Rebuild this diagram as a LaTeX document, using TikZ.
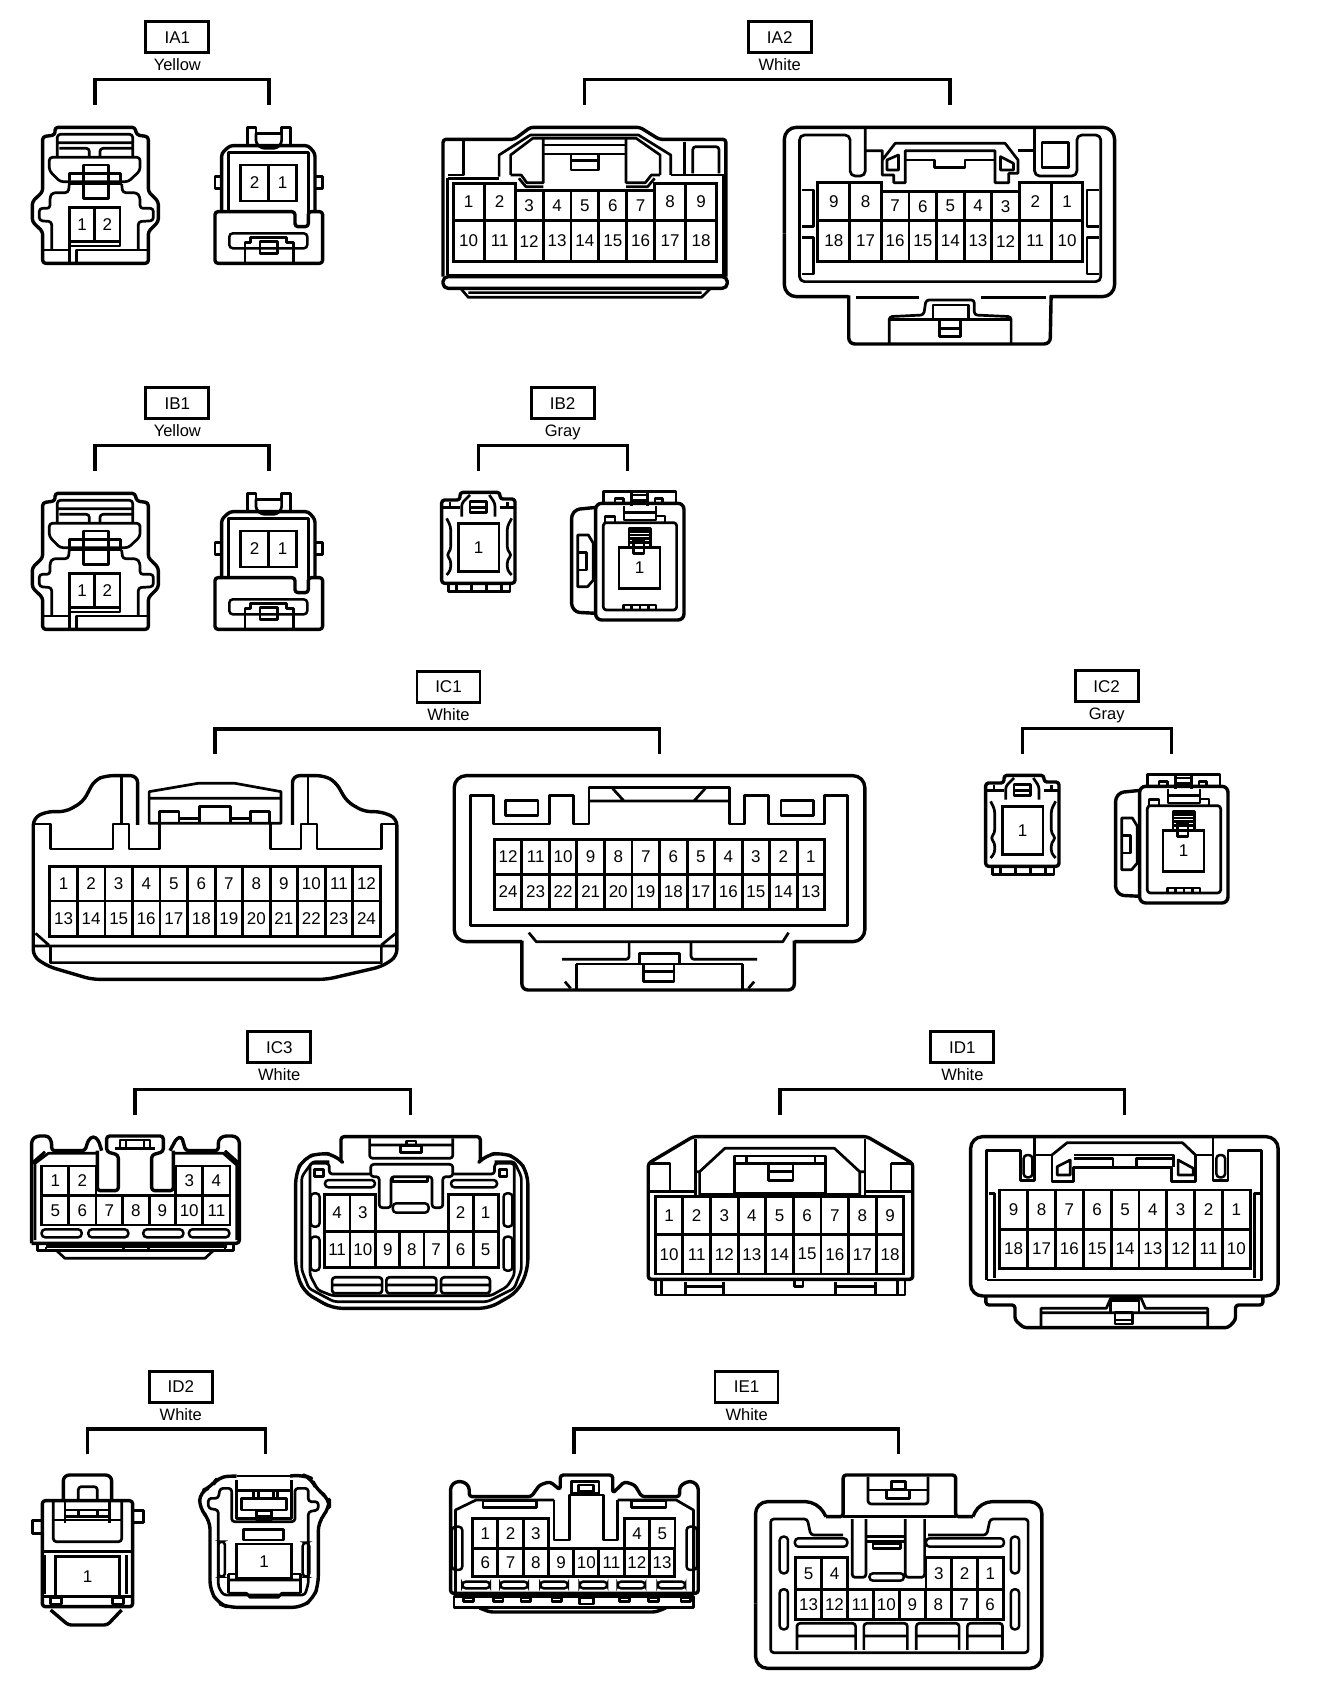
\documentclass[tikz,border=0pt]{standalone}
\usepackage{fontspec}
\setmainfont{Liberation Sans}
\usetikzlibrary{positioning}
\tikzset{
  shell/.style={line width=3.4pt,rounded corners=3pt,line join=round},
  inner/.style={line width=2.7pt,line join=round},
  curved/.style={line width=2.7pt,rounded corners=3pt,line join=round},
  slot/.style={line width=2.5pt,rounded corners=3.5pt},
  cell/.style={line width=2.9pt},
  pinnum/.style={inner sep=0pt,font=\fontsize{17}{20}\selectfont},
  tagbox/.style={draw,line width=2.7pt,minimum width=63pt,minimum height=31pt,inner sep=0pt,font=\fontsize{17}{20}\selectfont},
  tagcolor/.style={inner sep=0pt,text height=11pt,text depth=3pt,font=\fontsize{16.5}{20}\selectfont},
  bracket/.style={line width=3.4pt},
  crop/.style n args={3}{shift={(#1,#2)},x=#3pt,y=-0.3333pt}
}
\newcommand{\contag}[7]{%
  \node[tagbox] (#1) at (#4,#5) {#2};
  \node[tagcolor,below=5.5pt of #1] (#1col) {#3};
  \coordinate (#1l) at (#6,#5+202);
  \coordinate (#1r) at (#7,#5+202);
  \draw[bracket] (#1l) -- ++(0,-75) -| (#1r);
}
\newcommand{\pinrow}[6]{%
  \foreach \n [count=\i from 0] in {#6}
    \draw[cell] ({#2+\i*#4},#3) rectangle ({#2+(\i+1)*#4},#3+#5) node[midway,pinnum] (#1\n) {\n};
}
\newcommand{\twoplug}[1]{%
  \draw[shell] (128,410) -- (165,405) -- (165,382) -- (405,382) -- (410,405) -- (445,410) -- (445,575) -- (475,605) -- (475,665) -- (445,695) -- (445,790) -- (128,790) -- (128,695) -- (97,665) -- (97,605) -- (128,575) -- cycle;
  \draw[curved] (172,470) -- (172,403) -- (398,403) -- (398,470) (172,428) -- (398,428) (178,445) -- (268,445) -- (268,470) (300,470) -- (300,445) -- (398,445);
  \draw[curved] (148,472) -- (420,472) -- (420,512) -- (385,545) -- (180,545) -- (148,512) -- cycle;
  \draw[inner] (250,495) rectangle (325,595) (208,520) rectangle (362,552);
  \draw[curved] (208,552) -- (205,578) -- (158,578) -- (150,590) -- (150,625) -- (118,625) -- (118,662) -- (155,665) -- (155,750);
  \draw[curved] (365,552) -- (368,578) -- (410,578) -- (420,590) -- (420,625) -- (460,625) -- (460,662) -- (415,665) -- (415,750);
  \draw[inner] (128,750) -- (208,750) (230,785) -- (230,750) -- (445,750) (208,725) -- (208,785) (208,738) -- (360,738) -- (360,725);
  \pinrow{#1}{208}{622}{76}{103}{1,2}
}
\newcommand{\twosock}[1]{%
  \draw[inner] (742,435) -- (742,382) -- (768,382) -- (768,400) -- (845,400) -- (845,382) -- (872,382) -- (872,435);
  \draw[curved] (768,400) -- (768,430) -- (785,445) -- (830,445) -- (845,430) -- (845,400);
  \draw[shell] (665,635) -- (665,460) -- (690,437) -- (925,437) -- (945,460) -- (945,635);
  \draw[inner] (685,635) -- (685,458) -- (925,458) -- (925,640);
  \draw[inner] (665,530) -- (645,530) -- (645,565) -- (665,565) (945,530) -- (968,530) -- (968,565) -- (945,565);
  \pinrow{#1}{722}{495}{84}{108}{2,1}
  \draw[shell] (645,635) -- (885,635) -- (885,680) -- (925,680) -- (925,635) -- (968,635) -- (968,790) -- (645,790) -- cycle;
  \draw[slot] (688,700) rectangle (922,745);
  \draw[inner] (735,790) -- (735,728) -- (752,728) -- (752,712) -- (860,712) -- (860,728) -- (880,728) -- (880,790);
  \draw[inner] (780,725) rectangle (832,760);
}
\newcommand{\oneplug}[1]{%
  \draw[shell] (65,360) -- (120,360) -- (120,337) -- (240,337) -- (240,357) -- (285,357) -- (285,610) -- (65,610) -- cycle;
  \draw[inner] (85,610) -- (85,635) -- (270,635) -- (270,610) (110,612) -- (110,635) (155,612) -- (155,635) (200,612) -- (200,635) (245,612) -- (245,635);
  \draw[inner] (70,382) -- (120,382) (240,382) -- (285,382) (90,365) -- (90,382) (262,365) -- (262,382);
  \draw[curved] (125,410) -- (125,370) -- (150,345) (225,410) -- (225,370) -- (208,345);
  \draw[inner] (150,365) rectangle (200,398) (150,382) -- (200,382);
  \draw[curved] (80,415) -- (92,440) -- (92,510) -- (80,525) -- (92,540) -- (92,570) -- (80,585);
  \draw[curved] (275,415) -- (262,440) -- (262,510) -- (275,525) -- (262,540) -- (262,570) -- (275,585);
  \pinrow{#1}{115}{430}{122}{145}{1}
}
\newcommand{\onesock}[1]{%
  \draw[shell] (530,382) -- (470,388) -- (455,405) -- (455,680) -- (470,697) -- (528,700);
  \draw[inner] (473,465) -- (505,465) -- (520,490) -- (520,600) -- (503,620) -- (473,620) -- cycle;
  \draw[inner] (473,518) -- (500,518) -- (500,570) -- (473,570);
  \draw[inner] (550,370) -- (550,335) -- (768,335) -- (768,370) (585,370) -- (585,355) -- (610,355) -- (610,370) (705,370) -- (705,355) -- (728,355) -- (728,370);
  \draw[inner] (635,335) -- (635,378) (682,335) -- (682,378) (635,345) -- (682,345) (635,362) -- (682,362);
  \draw[shell,rounded corners=6pt] (527,370) rectangle (792,720);
  \draw[curved] (550,428) rectangle (770,690);
  \draw[inner] (612,378) -- (612,420) -- (708,420) -- (708,378) (612,398) -- (708,398) (555,428) -- (555,410) -- (585,410) -- (585,428) (735,428) -- (735,408) -- (708,408);
  \draw[inner] (627,500) -- (627,445) -- (692,445) -- (692,500) (627,455) -- (692,455) (627,465) -- (692,465) (627,475) -- (692,475) (627,487) -- (692,487);
  \draw[inner] (640,480) rectangle (672,520);
  \pinrow{#1}{597}{503}{123}{122}{1}
  \draw[inner] (610,690) -- (610,675) -- (708,675) -- (708,690) (635,675) -- (635,690) (660,675) -- (660,690) (685,675) -- (685,690);
}
\begin{document}
\begin{tikzpicture}[x=1pt,y=-1pt]
  \fill[white] (0,0) rectangle (1328,1706);
  \useasboundingbox (0,0) rectangle (1328,1706);

  \begin{scope}[crop={0}{0}{0.3333}]
    \contag{ia1}{IA1}{Yellow}{532}{112}{285}{807}
    \twoplug{ia1p}
    \twosock{ia1s}
  \end{scope}

  \begin{scope}[crop={0}{366}{0.3333}]
    \contag{ib1}{IB1}{Yellow}{532}{112}{285}{807}
    \twoplug{ib1p}
    \twosock{ib1s}
  \end{scope}

  \begin{scope}[crop={420}{380}{0.3333}]
    \contag{ib2}{IB2}{Gray}{428}{70}{175}{622}
    \oneplug{ib2p}
    \onesock{ib2s}
  \end{scope}

  \begin{scope}[crop={964}{663}{0.3333}]
    \contag{ic2}{IC2}{Gray}{428}{70}{175}{622}
    \oneplug{ic2p}
    \onesock{ic2s}
  \end{scope}

  \begin{scope}[crop={420}{0}{0.4600}]
    \contag{ia2}{IA2}{White}{782}{112}{358}{1152}
    \draw[shell] (50,830) -- (50,418) -- (205,418) -- (240,382) -- (478,382) -- (520,418) -- (665,418) -- (665,830);
    \draw[shell,rounded corners=5pt] (50,830) -- (668,830) -- (668,865) -- (50,865) -- cycle;
    \draw[inner] (90,868) -- (105,892) -- (612,892) -- (630,868) (105,878) -- (612,878);
    \draw[inner] (60,535) -- (172,535) (545,525) -- (660,525) -- (660,825) -- (60,825) -- (60,535);
    \draw[inner] (95,420) -- (95,525) -- (60,525) (575,425) -- (575,525);
    \draw[curved] (593,520) -- (593,440) -- (650,440) -- (650,520);
    \draw[inner] (172,530) -- (172,465) -- (240,405) -- (475,405) -- (545,465) -- (545,525);
    \draw[inner] (197,525) -- (197,465) -- (245,415) -- (470,415) -- (522,465) -- (522,525);
    \draw[inner] (197,525) -- (220,525) -- (232,548) -- (268,548) -- (268,415) (448,415) -- (448,548) -- (490,548) -- (503,525) -- (522,525);
    \draw[inner] (215,535) -- (230,560) -- (268,560) (448,560) -- (495,560) -- (510,535);
    \draw[inner] (268,435) -- (448,435) (268,462) -- (448,462);
    \draw[inner] (328,462) rectangle (388,510) (328,482) -- (388,482);
    \pinrow{ia2p}{72}{550}{67.5}{112}{1,2}
    \pinrow{ia2p}{207}{572}{60.6}{90}{3,4,5,6,7}
    \pinrow{ia2p}{510}{550}{67.5}{112}{8,9}
    \pinrow{ia2p}{72}{662}{67.5}{123}{10,11}
    \pinrow{ia2p}{207}{662}{60.6}{123}{12,13,14,15,16}
    \pinrow{ia2p}{510}{662}{67.5}{123}{17,18}
    \draw[shell,rounded corners=12pt] (792,700) -- (792,382) -- (1510,382) -- (1510,890) -- (1370,890);
    \draw[shell,rounded corners=6pt] (1372,886) -- (1370,1032) -- (932,1032) -- (932,886);
    \draw[shell,rounded corners=12pt] (932,890) -- (792,890) -- (792,700);
    \draw[curved,rounded corners=5pt] (968,385) -- (968,528) -- (935,528) -- (935,405) -- (825,405) -- (825,845) -- (1480,845) -- (1480,405) -- (1428,405) -- (1428,528) -- (1336,528) -- (1336,385);
    \draw[inner] (968,452) -- (1005,452) -- (1005,525) -- (1030,525) -- (1030,548) -- (1055,548) -- (1055,452) -- (1250,452) -- (1250,548) -- (1280,548) -- (1280,520) -- (1300,520) -- (1300,480) -- (1272,430) -- (1033,430) -- (1005,480);
    \draw[inner] (1300,452) -- (1336,452);
    \draw[inner] (1055,480) -- (1118,480) -- (1118,502) -- (1185,502) -- (1185,480) -- (1250,480);
    \draw[inner] (1015,480) -- (1040,465) -- (1040,510) -- (1015,510) -- cycle (1262,470) -- (1290,490) -- (1290,510) -- (1262,510) -- cycle;
    \draw[inner] (1352,428) rectangle (1410,502);
    \draw[inner] (830,570) -- (855,570) -- (855,680) -- (830,680) (830,712) -- (855,712) -- (855,822) -- (830,822);
    \draw[inner] (1475,570) -- (1450,570) -- (1450,680) -- (1475,680) (1475,712) -- (1450,712) -- (1450,822) -- (1475,822);
    \pinrow{ia2s}{865}{548}{69}{114}{9,8}
    \pinrow{ia2s}{1003}{575}{60}{87}{7,6,5,4,3}
    \pinrow{ia2s}{1303}{548}{69}{114}{2,1}
    \pinrow{ia2s}{865}{662}{69}{123}{18,17}
    \pinrow{ia2s}{1003}{662}{60}{123}{16,15,14,13,12}
    \pinrow{ia2s}{1303}{662}{69}{123}{11,10}
    \draw[inner] (948,892) -- (1085,892) (1220,892) -- (1360,892);
    \draw[curved] (1020,1030) -- (1020,950) -- (1095,945) -- (1100,900) -- (1205,900) -- (1205,945) -- (1285,950) -- (1285,1030);
    \draw[inner] (1020,958) -- (1285,958) (1115,958) -- (1115,915) -- (1192,915) -- (1192,958);
    \draw[inner] (1130,958) rectangle (1175,1010) (1130,985) -- (1175,985);
  \end{scope}

  \begin{scope}[crop={0}{670}{0.5735}]
    \contag{ic1}{IC1}{White}{782}{50}{375}{1150}
    \draw[shell,rounded corners=7pt] (240,465) -- (240,317) -- (185,317) -- (165,330) -- (145,395) -- (115,425) -- (80,425) -- (58,445) -- (58,860) -- (85,890) -- (160,928) -- (570,928) -- (665,890) -- (692,860) -- (692,445) -- (665,425) -- (635,425) -- (605,395) -- (585,335) -- (565,317) -- (510,317) -- (510,465);
    \draw[inner] (58,462) -- (88,462) -- (88,537) -- (197,537) -- (197,462) -- (225,462) -- (225,537) -- (278,537) -- (278,460);
    \draw[inner] (692,462) -- (665,462) -- (665,537) -- (553,537) -- (553,462) -- (525,462) -- (525,537) -- (472,537) -- (472,460);
    \draw[inner] (212,320) -- (212,460) (537,320) -- (537,460);
    \draw[inner] (260,460) -- (260,365) -- (345,340) -- (410,340) -- (490,365) -- (490,460) -- cycle (260,385) -- (490,385);
    \draw[inner] (278,460) -- (278,425) -- (312,425) -- (312,460) (348,460) -- (348,410) -- (402,410) -- (402,460) (437,460) -- (437,425) -- (470,425) -- (470,460) (312,445) -- (348,445) (402,445) -- (437,445);
    \pinrow{ic1p}{87}{590}{48}{103}{1,2,3,4,5,6,7,8,9,10,11,12}
    \pinrow{ic1p}{87}{693}{48}{107}{13,14,15,16,17,18,19,20,21,22,23,24}
    \draw[inner] (58,828) -- (692,828) (88,828) -- (88,878) -- (665,878) -- (665,828) (62,790) -- (85,825) (690,790) -- (665,825);
    \draw[shell,rounded corners=12pt] (792,600) -- (792,317) -- (1508,317) -- (1508,815) -- (1385,815);
    \draw[shell,rounded corners=6pt] (1385,812) -- (1385,960) -- (910,960) -- (910,812);
    \draw[shell,rounded corners=12pt] (910,815) -- (792,815) -- (792,600);
    \draw[inner] (820,767) -- (820,377) -- (860,377) -- (860,462) -- (958,462) -- (958,377) -- (1000,377) -- (1000,462) -- (1027,462) -- (1027,352) -- (1272,352) -- (1272,462) -- (1298,462) -- (1298,377) -- (1340,377) -- (1340,462) -- (1438,462) -- (1438,377) -- (1478,377) -- (1478,767) -- cycle;
    \draw[inner] (1027,393) -- (1272,393) (1068,355) -- (1088,393) (1230,355) -- (1210,393);
    \draw[inner] (882,392) rectangle (938,437) (1362,392) rectangle (1418,437);
    \pinrow{ic1s}{862}{508}{48}{105}{12,11,10,9,8,7,6,5,4,3,2,1}
    \pinrow{ic1s}{862}{613}{48}{105}{24,23,22,21,20,19,18,17,16,15,14,13}
    \draw[inner] (922,788) -- (935,815) -- (1365,815) -- (1375,788);
    \draw[curved] (1097,815) -- (1097,868) -- (980,868) (1205,815) -- (1205,868) -- (1320,868);
    \draw[inner] (1005,882) -- (1295,882) (1005,882) -- (1005,960) (1295,882) -- (1295,960);
    \draw[inner] (1115,850) rectangle (1185,882) (1122,882) rectangle (1175,935) (1122,905) -- (1175,905);
    \draw[inner] (985,935) -- (995,955) (1315,935) -- (1305,955);
  \end{scope}

  \begin{scope}[crop={20}{1130}{0.3333}]
    \draw[shell] (35,340) -- (35,30) -- (50,18) -- (85,18) -- (95,35) -- (95,62) -- (195,62) -- (205,30) -- (220,18) -- (235,30) -- (245,62);
    \draw[shell] (450,62) -- (470,25) -- (485,20) -- (497,62) -- (595,62) -- (595,30) -- (610,18) -- (645,18) -- (658,30) -- (658,340) -- (35,340);
    \draw[shell] (232,62) -- (232,182) -- (295,182) -- (295,75) -- (260,65) -- (260,18) -- (430,18) -- (430,65) -- (395,75) -- (395,182) -- (460,182) -- (460,62);
    \draw[inner] (45,330) -- (45,100) -- (85,70) -- (232,70) (460,70) -- (610,70) -- (650,105) -- (650,330) (35,100) -- (75,65) (658,100) -- (615,62);
    \draw[inner] (300,55) -- (300,30) -- (390,30) -- (390,55) (285,55) -- (405,55) (318,30) -- (318,55) (372,30) -- (372,55);
    \pinrow{ic3p}{65}{108}{81.5}{89}{1,2}
    \pinrow{ic3p}{467}{108}{81.5}{89}{3,4}
    \pinrow{ic3p}{65}{197}{81.5}{88}{5,6}
    \pinrow{ic3p}{228}{197}{79.7}{88}{7,8,9}
    \pinrow{ic3p}{467}{197}{81.5}{88}{10,11}
    \draw[slot] (65,298) rectangle (185,322) (205,298) rectangle (325,322) (370,298) rectangle (490,322) (507,298) rectangle (628,322);
    \draw[inner] (52,342) -- (52,362) -- (640,362) -- (640,342) (78,350) -- (620,350) (78,350) -- (78,362) (615,350) -- (615,362) (310,350) -- (310,362) (385,350) -- (385,362);
    \draw[inner] (110,362) -- (135,385) -- (555,385) -- (580,362);
  \end{scope}

  \begin{scope}[crop={0}{1030}{0.3571}]
    \contag{ic3}{IC3}{White}{782}{52}{378}{1150}
    \draw[shell] (955,392) -- (955,320) -- (1345,320) -- (1345,392);
    \draw[curved] (1035,325) -- (1035,385) -- (1268,385) -- (1268,325) (1035,345) -- (1268,345);
    \draw[inner] (1122,348) rectangle (1180,368) (1138,333) rectangle (1165,348);
    \draw[shell,rounded corners=10pt] (955,392) -- (940,375) -- (895,368) -- (850,385) -- (828,430) -- (828,720) -- (850,785) -- (930,835) -- (1370,835) -- (1450,785) -- (1478,720) -- (1478,430) -- (1450,385) -- (1405,368) -- (1360,375) -- (1345,392);
    \draw[curved] (922,395) -- (875,395) -- (845,440) -- (845,720) -- (865,775) -- (935,815) -- (1365,815) -- (1440,775) -- (1460,720) -- (1460,440) -- (1440,395) -- (1385,395);
    \draw[curved] (1040,432) -- (922,432) -- (922,400) -- (868,400) -- (868,735) -- (890,780) -- (930,797) -- (1375,797) -- (1420,770) -- (1440,735) -- (1440,400) -- (1385,400) -- (1385,432) -- (1268,432);
    \draw[inner] (880,418) rectangle (905,440) (1398,418) rectangle (1420,440);
    \draw[curved] (1038,403) -- (1268,403) -- (1268,440) -- (1240,440) -- (1240,533) -- (1210,533) -- (1210,440) -- (1095,440) -- (1095,533) -- (1062,533) -- (1062,440) -- (1038,440) -- cycle;
    \draw[inner] (1100,442) -- (1100,455) -- (1198,455) -- (1198,442);
    \draw[slot] (1100,520) rectangle (1200,548) (910,450) rectangle (1050,472) (1263,450) rectangle (1392,472);
    \draw[slot] (870,490) rectangle (895,590) (870,620) rectangle (895,722) (1410,490) rectangle (1435,590) (1410,620) rectangle (1435,722);
    \pinrow{ic3s}{908}{493}{72}{112}{4,3}
    \pinrow{ic3s}{1255}{493}{70}{112}{2,1}
    \pinrow{ic3s}{908}{605}{72}{107}{11,10}
    \pinrow{ic3s}{1052}{605}{67.6}{107}{9,8,7}
    \pinrow{ic3s}{1255}{605}{70}{107}{6,5}
    \draw[curved] (930,790) -- (930,742) -- (1070,742) -- (1070,790) -- cycle (930,765) -- (1070,765);
    \draw[curved] (1082,790) -- (1082,742) -- (1222,742) -- (1222,790) -- cycle (1082,765) -- (1222,765);
    \draw[curved] (1235,790) -- (1235,742) -- (1372,742) -- (1372,790) -- cycle (1235,765) -- (1372,765);
  \end{scope}

  \begin{scope}[crop={630}{1030}{0.4350}]
    \contag{id1}{ID1}{White}{764}{52}{345}{1137}
    \draw[shell] (42,748) -- (42,400) -- (145,320) -- (545,320) -- (650,400) -- (650,748) -- cycle;
    \draw[inner] (58,748) -- (58,795) -- (632,795) -- (632,748) (72,750) -- (72,795) (615,750) -- (615,795);
    \draw[inner] (128,755) -- (128,795) (215,755) -- (215,795) (128,770) -- (215,770) (472,755) -- (472,795) (565,755) -- (565,795) (472,770) -- (565,770);
    \draw[inner] (378,750) -- (378,770) -- (398,770) -- (398,750);
    \draw[inner] (42,400) -- (92,400) -- (92,485) (600,400) -- (650,400) (600,400) -- (600,485);
    \draw[inner] (150,328) -- (150,495) (540,328) -- (540,495) (42,485) -- (150,485) (540,485) -- (650,485);
    \draw[inner] (160,495) -- (160,425) -- (218,355) -- (470,355) -- (528,425) -- (528,495) (160,425) -- (150,425) (528,425) -- (540,425);
    \draw[inner] (240,378) rectangle (450,490) (240,400) -- (450,400) (268,380) -- (268,400) (425,380) -- (425,400);
    \draw[inner] (318,402) rectangle (375,452) (318,425) -- (375,425);
    \draw[inner] (160,492) -- (528,492);
    \pinrow{id1p}{58}{500}{63.5}{113}{1,2,3,4,5,6,7,8,9}
    \pinrow{id1p}{58}{613}{63.5}{119}{10,11,12,13,14,15,16,17,18}
    \draw[shell,rounded corners=12pt] (783,798) -- (783,320) -- (1490,320) -- (1490,798) -- cycle;
    \draw[inner] (820,750) -- (820,362) -- (897,362) -- (897,452) -- (930,452) -- (930,322);
    \draw[slot] (905,375) rectangle (925,442) (1348,375) rectangle (1368,442);
    \draw[inner] (930,375) -- (970,375) -- (970,455) -- (1020,455) -- (1020,412) -- (1245,412) -- (1245,455) -- (1300,455) -- (1300,375) -- (1340,375);
    \draw[inner] (970,375) -- (1005,338) -- (1270,338) -- (1300,375);
    \draw[inner] (1020,375) -- (1250,375) -- (1250,412) (1020,385) -- (1110,385) -- (1110,410) (1165,410) -- (1165,385) -- (1250,385);
    \draw[inner] (982,435) -- (982,410) -- (1012,390) -- (1012,435) -- cycle (1260,390) -- (1295,415) -- (1295,435) -- (1260,435) -- cycle;
    \draw[inner] (1340,325) -- (1340,452) -- (1375,452) -- (1375,362) -- (1452,362) -- (1452,750) -- (820,750);
    \draw[inner] (825,490) -- (838,490) -- (838,745) (1450,490) -- (1435,490) -- (1435,745);
    \pinrow{id1s}{850}{480}{64}{118}{9,8,7,6,5,4,3,2,1}
    \pinrow{id1s}{850}{598}{64}{117}{18,17,16,15,14,13,12,11,10}
    \draw[shell] (818,798) -- (818,825) -- (885,825) -- (885,870) -- (905,893) -- (1375,893) -- (1392,870) -- (1392,825) -- (1455,825) -- (1455,798);
    \draw[inner] (945,893) -- (945,835) -- (1095,835) -- (1105,805) -- (1175,805) -- (1185,835) -- (1328,835) -- (1328,893) (945,848) -- (1328,848);
    \draw[inner] (1105,848) -- (1105,812) -- (1170,812) -- (1170,848) (1115,848) rectangle (1155,882) (1115,870) -- (1155,870);
  \end{scope}

  \begin{scope}[crop={20}{1470}{0.3333}]
    \draw[shell,rounded corners=6pt] (130,92) -- (130,15) -- (275,15) -- (275,92);
    \draw[curved] (175,92) -- (175,50) -- (232,50) -- (232,92);
    \draw[shell] (67,92) -- (338,92) -- (338,410) -- (67,410) -- cycle;
    \draw[inner] (338,122) -- (370,122) -- (370,158) -- (338,158) (67,152) -- (37,152) -- (37,190) -- (67,190);
    \draw[curved] (100,92) -- (100,215) -- (305,215) -- (305,92);
    \draw[inner] (135,92) -- (135,158) (268,92) -- (268,158) (135,120) -- (268,120) (135,140) -- (268,140) (100,150) -- (305,150) (175,120) -- (175,140) (232,120) -- (232,140);
    \draw[inner] (67,245) -- (338,245) (75,255) -- (75,372) (320,255) -- (320,372);
    \pinrow{id2p}{107}{260}{191}{120}{1}
    \draw[inner] (67,380) -- (338,380) (92,382) rectangle (125,402) (278,382) rectangle (310,402);
    \draw[shell] (92,420) -- (145,465) -- (262,465) -- (305,420);
  \end{scope}

  \begin{scope}[crop={190}{1470}{0.3333}]
    \draw[shell,rounded corners=9pt] (140,18) -- (85,20) -- (65,50) -- (30,65) -- (28,115) -- (60,150) -- (60,360) -- (85,400) -- (115,412) -- (335,412) -- (370,385) -- (385,345) -- (385,155) -- (418,115) -- (418,85) -- (380,60) -- (365,25) -- (340,15) -- (300,18);
    \draw[inner] (140,18) -- (300,18);
    \draw[curved] (125,155) -- (125,55) -- (90,55) -- (85,85) -- (55,85) -- (55,115) -- (85,120) -- (85,350) -- (100,375) -- (345,375) -- (355,340) -- (355,125) -- (385,120) -- (385,95) -- (355,95) -- (355,55) -- (315,55) -- (315,155) -- cycle;
    \draw[inner] (140,30) -- (140,145) -- (305,145) -- (305,30) (140,62) -- (305,62);
    \draw[inner] (155,85) rectangle (290,120) (190,65) -- (190,85) (205,65) -- (205,85) (250,65) -- (250,85) (262,65) -- (262,85);
    \draw[inner] (200,122) rectangle (245,150) (200,138) -- (245,138);
    \draw[inner] (160,178) rectangle (280,210);
    \pinrow{id2s}{140}{222}{165}{103}{1}
    \draw[slot] (85,215) rectangle (105,320) (338,218) rectangle (358,320);
    \draw[inner] (115,312) -- (135,312) (310,312) -- (332,312) (115,312) -- (115,370) (332,312) -- (332,370);
    \draw[inner] (115,330) -- (332,330) (115,370) -- (170,370) -- (180,382) -- (265,382) -- (275,370) -- (332,370);
  \end{scope}

  \begin{scope}[crop={0}{1370}{0.6900}]
    \contag{id2}{ID2}{White}{262}{50}{127}{385}
    \contag{ie1}{IE1}{White}{1082}{50}{832}{1302}
    \draw[shell] (653,670) -- (653,350) -- (660,335) -- (672,335) -- (680,350) -- (680,380) -- (770,380) -- (782,345) -- (797,335) -- (812,360) -- (812,315) -- (888,315) -- (888,370) -- (905,335) -- (920,345) -- (930,380) -- (985,380) -- (985,350) -- (995,335) -- (1005,335) -- (1012,350) -- (1012,670) -- cycle;
    \draw[inner] (803,390) -- (803,510) -- (825,510) -- (825,375) -- (875,375) -- (875,510) -- (895,510) -- (895,390);
    \draw[inner] (828,335) rectangle (868,370) (838,345) rectangle (860,365);
    \draw[inner] (660,670) -- (660,420) -- (690,390) -- (803,390) (895,390) -- (980,390) -- (1005,420) -- (1005,670);
    \draw[inner] (700,392) rectangle (778,412) (915,392) rectangle (965,412);
    \pinrow{ie1p}{685}{445}{36.6}{90}{1,2,3}
    \pinrow{ie1p}{905}{445}{36.6}{90}{4,5}
    \pinrow{ie1p}{685}{535}{36.6}{85}{6,7,8,9,10,11,12,13}
    \draw[slot] (655,470) rectangle (670,600) (995,470) rectangle (1010,600);
    \foreach \sx in {690,745,803,860,915,973}
      \draw[slot] ({\sx-20},635) rectangle ({\sx+20},655);
    \draw[inner] (658,680) -- (658,712) -- (1005,712) -- (1005,680) -- cycle;
    \foreach \sx in {672,715,755,800,898,940,987}
      \draw[inner] (\sx,682) rectangle ({\sx+14},695);
    \draw[inner] (840,682) rectangle (860,702);
    \draw[shell] (695,714) -- (710,726) -- (950,726) -- (965,714);
    \draw[shell,rounded corners=12pt] (1095,700) -- (1095,395) -- (1185,395) -- (1197,440);
    \draw[shell] (1197,440) -- (1222,440) -- (1222,315) -- (1385,315) -- (1385,440) -- (1410,440);
    \draw[shell,rounded corners=12pt] (1410,440) -- (1420,395) -- (1510,395) -- (1510,895) -- (1095,895) -- (1095,700);
    \draw[shell] (1222,440) -- (1385,440);
    \draw[curved] (1258,320) -- (1258,402) -- (1345,402) -- (1345,320);
    \draw[inner] (1258,360) -- (1345,360) (1285,360) rectangle (1318,385) (1292,335) rectangle (1312,358);
    \draw[curved] (1222,495) -- (1175,495) -- (1170,447) -- (1117,447) -- (1117,848) -- (1490,848) -- (1490,447) -- (1435,447) -- (1430,495) -- (1345,495);
    \draw[curved] (1235,447) -- (1235,622) -- (1255,622) -- (1255,447) (1312,447) -- (1312,622) -- (1340,622) -- (1340,447);
    \draw[inner] (1255,500) -- (1312,500) (1255,515) -- (1312,515) (1265,520) rectangle (1305,535);
    \draw[slot] (1152,505) rectangle (1228,530) (1342,505) rectangle (1455,530) (1260,610) rectangle (1310,632);
    \draw[slot] (1130,500) rectangle (1142,610) (1130,658) rectangle (1142,778) (1465,500) rectangle (1477,610) (1465,658) rectangle (1477,778);
    \pinrow{ie1s}{1153}{562}{37.6}{96}{5,4}
    \pinrow{ie1s}{1342}{562}{37.3}{96}{3,2,1}
    \pinrow{ie1s}{1153}{658}{37.6}{90}{13,12,11,10,9,8,7,6}
    \draw[curved] (1155,840) -- (1155,760) -- (1240,760) -- (1240,840) (1155,798) -- (1240,798);
    \draw[curved] (1252,840) -- (1252,760) -- (1315,760) -- (1315,840) (1252,798) -- (1315,798);
    \draw[curved] (1328,840) -- (1328,760) -- (1390,760) -- (1390,840) (1328,798) -- (1390,798);
    \draw[curved] (1402,840) -- (1402,760) -- (1453,760) -- (1453,840) (1402,798) -- (1453,798);
  \end{scope}
\end{tikzpicture}
\end{document}
